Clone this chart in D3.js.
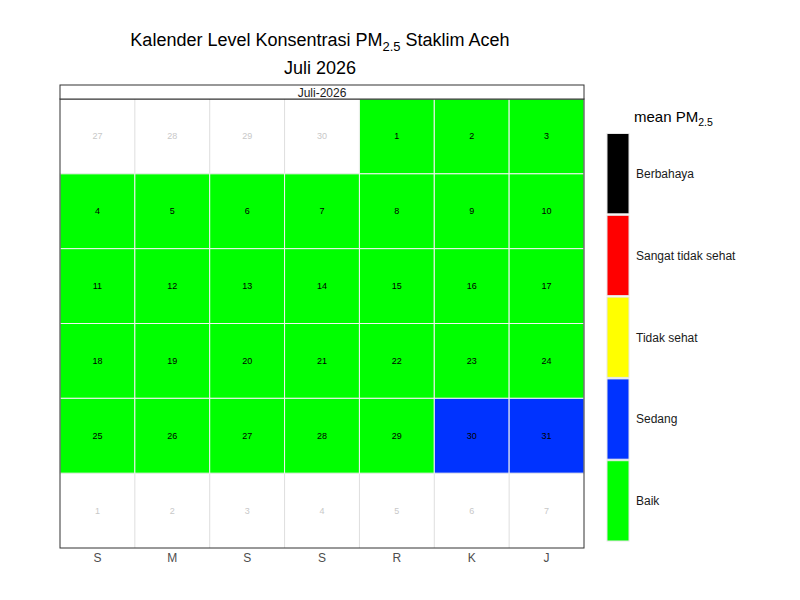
<!DOCTYPE html>
<html>
<head>
<meta charset="utf-8">
<script src="https://cdn.jsdelivr.net/npm/d3@7"></script>
<style>
  body { margin: 0; background: #fff; }
  text { font-family: "Liberation Sans", Arial, sans-serif; }
</style>
</head>
<body>
<div id="chart"></div>
<script>
// Chart values
var weekdayLabels = ["S", "M", "S", "S", "R", "K", "J"];
var levelNames = ["Baik", "Sedang", "Tidak sehat", "Sangat tidak sehat", "Berbahaya"];
var levelColors = ["#00ff00", "#0033ff", "#ffff00", "#ff0000", "#000000"];
var prevMonthDays = [27, 28, 29, 30];
var nextMonthDays = [1, 2, 3, 4, 5, 6, 7];
// level for every day of Juli 2026
var dayLevels = [
  "Baik", "Baik", "Baik", "Baik", "Baik", "Baik", "Baik",
  "Baik", "Baik", "Baik", "Baik", "Baik", "Baik", "Baik",
  "Baik", "Baik", "Baik", "Baik", "Baik", "Baik", "Baik",
  "Baik", "Baik", "Baik", "Baik", "Baik", "Baik", "Baik",
  "Baik", "Sedang", "Sedang"
];

var svgWidth = 800;
var svgHeight = 600;

// panel area
var panel = { left: 60, right: 584, top: 99, bottom: 548 };
var stripHeight = 14;

var svg = d3.select("#chart")
  .append("svg")
  .attr("width", svgWidth)
  .attr("height", svgHeight);

// build calendar cells (weeks start on Saturday)
var calStart = new Date(2026, 5, 27);
function cellOf(date, day, inMonth, level) {
  return {
    col: (date.getDay() + 1) % 7,
    row: d3.timeSaturday.count(calStart, date),
    day: day,
    inMonth: inMonth,
    level: level
  };
}
var cells = [];
prevMonthDays.forEach(function(d) {
  cells.push(cellOf(new Date(2026, 5, d), d, false, null));
});
dayLevels.forEach(function(lv, i) {
  cells.push(cellOf(new Date(2026, 6, i + 1), i + 1, true, lv));
});
nextMonthDays.forEach(function(d) {
  cells.push(cellOf(new Date(2026, 7, d), d, false, null));
});

var nRows = d3.max(cells, d => d.row) + 1;

var xScale = d3.scaleBand()
  .domain(d3.range(7))
  .range([panel.left, panel.right]);

var yScale = d3.scaleBand()
  .domain(d3.range(nRows))
  .range([panel.top, panel.bottom]);

var colorScale = d3.scaleOrdinal()
  .domain(levelNames)
  .range(levelColors);

// grid lines
var grid = svg.append("g");
grid.selectAll("line.v")
  .data(d3.range(1, 7))
  .enter()
  .append("line")
  .attr("x1", d => xScale(d)).attr("x2", d => xScale(d))
  .attr("y1", panel.top).attr("y2", panel.bottom)
  .attr("stroke", "#dedede");
grid.selectAll("line.h")
  .data(d3.range(1, nRows))
  .enter()
  .append("line")
  .attr("x1", panel.left).attr("x2", panel.right)
  .attr("y1", d => yScale(d)).attr("y2", d => yScale(d))
  .attr("stroke", "#dedede");

// coloured tiles
svg.append("g")
  .selectAll("rect")
  .data(cells.filter(d => d.inMonth))
  .enter()
  .append("rect")
  .attr("x", d => xScale(d.col))
  .attr("y", d => yScale(d.row))
  .attr("width", xScale.bandwidth())
  .attr("height", yScale.bandwidth())
  .attr("fill", d => colorScale(d.level))
  .attr("stroke", "#f2f2f2")
  .attr("stroke-width", 1);

// day numbers
svg.append("g")
  .selectAll("text")
  .data(cells)
  .enter()
  .append("text")
  .attr("x", d => xScale(d.col) + xScale.bandwidth() / 2)
  .attr("y", d => yScale(d.row) + yScale.bandwidth() / 2)
  .attr("text-anchor", "middle")
  .attr("dominant-baseline", "central")
  .attr("font-size", "9px")
  .attr("fill", d => d.inMonth ? "#000" : "#c8c8c8")
  .text(d => d.day);

// panel border
svg.append("rect")
  .attr("x", panel.left).attr("y", panel.top)
  .attr("width", panel.right - panel.left)
  .attr("height", panel.bottom - panel.top)
  .attr("fill", "none")
  .attr("stroke", "#333");

// facet strip
svg.append("rect")
  .attr("x", panel.left).attr("y", panel.top - stripHeight)
  .attr("width", panel.right - panel.left)
  .attr("height", stripHeight)
  .attr("fill", "#fff")
  .attr("stroke", "#333");
svg.append("text")
  .attr("x", (panel.left + panel.right) / 2)
  .attr("y", panel.top - stripHeight / 2 + 0.5)
  .attr("text-anchor", "middle")
  .attr("dominant-baseline", "central")
  .attr("font-size", "12px")
  .attr("fill", "#1a1a1a")
  .text("Juli-2026");

// weekday axis
svg.append("g")
  .selectAll("text")
  .data(weekdayLabels)
  .enter()
  .append("text")
  .attr("x", (d, i) => xScale(i) + xScale.bandwidth() / 2)
  .attr("y", panel.bottom + 14)
  .attr("text-anchor", "middle")
  .attr("font-size", "12px")
  .attr("fill", "#4d4d4d")
  .text(d => d);

// titles
var title = svg.append("text")
  .attr("x", 320)
  .attr("y", 46)
  .attr("text-anchor", "middle")
  .attr("font-size", "18px")
  .attr("fill", "#000");
title.append("tspan").text("Kalender Level Konsentrasi PM");
title.append("tspan").attr("font-size", "13px").attr("dy", 5).text("2.5");
title.append("tspan").attr("dy", -5).text(" Staklim Aceh");

svg.append("text")
  .attr("x", 320)
  .attr("y", 74)
  .attr("text-anchor", "middle")
  .attr("font-size", "18px")
  .attr("fill", "#000")
  .text("Juli 2026");

// legend
var legend = svg.append("g");
var legTitle = legend.append("text")
  .attr("x", 634)
  .attr("y", 122)
  .attr("font-size", "15px")
  .attr("fill", "#000");
legTitle.append("tspan").text("mean PM");
legTitle.append("tspan").attr("font-size", "10.5px").attr("dy", 4).text("2.5");

var legendOrder = levelNames.slice().reverse();
var legScale = d3.scaleBand()
  .domain(legendOrder)
  .range([133, 542]);

legend.selectAll("rect")
  .data(legendOrder)
  .enter()
  .append("rect")
  .attr("x", 607)
  .attr("y", d => legScale(d) + 0.5)
  .attr("width", 22)
  .attr("height", legScale.bandwidth() - 1.5)
  .attr("fill", d => colorScale(d))
  .attr("stroke", "#e6e6e6")
  .attr("stroke-width", 1);

legend.selectAll("text.lab")
  .data(legendOrder)
  .enter()
  .append("text")
  .attr("class", "lab")
  .attr("x", 636)
  .attr("y", d => legScale(d) + legScale.bandwidth() / 2)
  .attr("dominant-baseline", "central")
  .attr("font-size", "12px")
  .attr("fill", "#1a1a1a")
  .text(d => d);
</script>
</body>
</html>
